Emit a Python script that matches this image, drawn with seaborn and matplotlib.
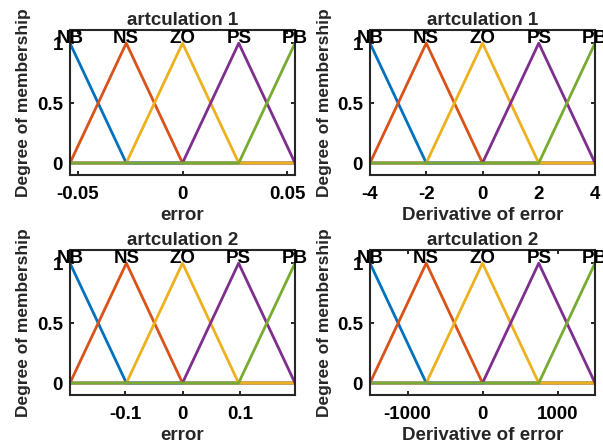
import numpy as np
import pandas as pd
import matplotlib
matplotlib.use("Agg")
import matplotlib.pyplot as plt
import seaborn as sns

# ---- data ----
mf_names = ["NB", "NS", "ZO", "PS", "PB"]
# triangle peaks (each MF spans its neighbours' peaks)
centers_err1 = [-0.0536, -0.0268, 0.0, 0.0268, 0.0536]
centers_derr1 = [-4.0, -2.0, 0.0, 2.0, 4.0]
centers_err2 = [-0.1965, -0.098, 0.0, 0.098, 0.1965]
centers_derr2 = [-1500.0, -750.0, 0.0, 750.0, 1500.0]

titles = ["artculation 1", "artculation 1", "artculation 2", "artculation 2"]
xlabels = ["error", "Derivative of error", "error", "Derivative of error"]
xticks_list = [[-0.05, 0, 0.05], [-4, -2, 0, 2, 4], [-0.1, 0, 0.1], [-1000, 0, 1000]]
xticklabels_list = [["-0.05", "0", "0.05"], ["-4", "-2", "0", "2", "4"],
                    ["-0.1", "0", "0.1"], ["-1000", "0", "1000"]]
yticks = [0, 0.5, 1]
yticklabels = ["0", "0.5", "1"]

colors = ["#0072BD", "#D95319", "#EDB120", "#7E2F8E", "#77AC30"]

sns.set_style("white")
plt.rcParams['font.family'] = ['Liberation Sans', 'DejaVu Sans']
plt.rcParams['font.weight'] = 'bold'

fig = plt.figure(figsize=(6.03, 4.45), dpi=100)
positions = [
    [70 / 603, 1 - 175 / 445, 225 / 603, 145 / 445],
    [370 / 603, 1 - 175 / 445, 225 / 603, 145 / 445],
    [70 / 603, 1 - 395 / 445, 225 / 603, 145 / 445],
    [370 / 603, 1 - 395 / 445, 225 / 603, 145 / 445],
]
all_centers = [centers_err1, centers_derr1, centers_err2, centers_derr2]

fs = 13.5
for k in range(4):
    ax = fig.add_axes(positions[k])
    c = all_centers[k]
    rows = []
    for i, name in enumerate(mf_names):
        for j, x in enumerate(c):
            rows.append({"x": x, "y": 1.0 if i == j else 0.0, "mf": name})
    df = pd.DataFrame(rows)
    sns.lineplot(data=df, x="x", y="y", hue="mf", hue_order=mf_names,
                 palette=colors, estimator=None, sort=False, units="mf",
                 linewidth=2.0, legend=False, ax=ax)
    ax.set_xlim(c[0], c[-1])
    ax.set_ylim(-0.1, 1.11)
    for i, name in enumerate(mf_names):
        ax.text(c[i], 1.0, name, ha="center", va="baseline", fontsize=fs,
                fontweight="bold", color="black", clip_on=False)
    ax.set_xticks(xticks_list[k])
    ax.set_xticklabels(xticklabels_list[k], fontsize=fs, fontweight="bold")
    ax.set_yticks(yticks)
    ax.set_yticklabels(yticklabels, fontsize=fs, fontweight="bold")
    ax.tick_params(axis="both", direction="in", length=3, width=1.2, top=True, right=True,
                   bottom=True, left=True, colors="black")
    ax.tick_params(axis="x", pad=8)
    ax.tick_params(axis="y", pad=5)
    ax.set_title(titles[k], fontsize=fs, fontweight="bold", pad=3.5)
    ax.set_xlabel(xlabels[k], fontsize=fs, fontweight="bold", labelpad=3)
    ax.set_ylabel("Degree of membership", fontsize=12.5, fontweight="bold", labelpad=4)
    for sp in ax.spines.values():
        sp.set_visible(True)
        sp.set_color("#262626")
        sp.set_linewidth(1.5)

fig.savefig("out.png", dpi=100)
